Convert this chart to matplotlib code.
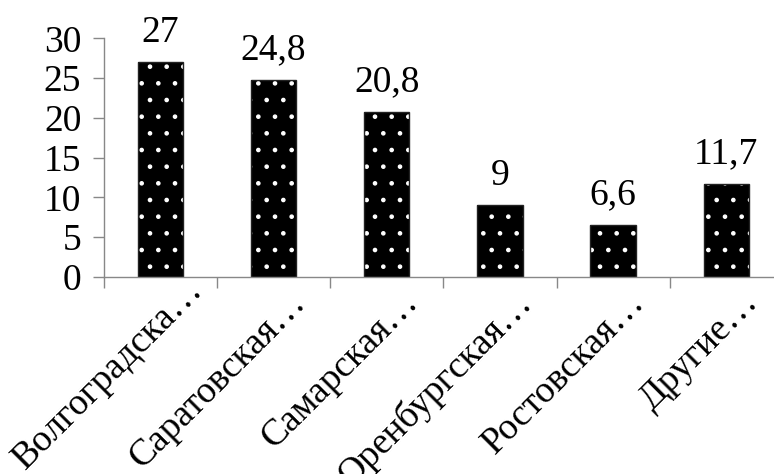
import matplotlib.pyplot as plt
import matplotlib.transforms as mtransforms
import numpy as np

regions = ["Волгоградска…", "Саратовская…", "Самарская…",
           "Оренбургская…", "Ростовская…", "Другие…"]
shares = [27, 24.8, 20.8, 9, 6.6, 11.7]
share_labels = ["27", "24,8", "20,8", "9", "6,6", "11,7"]

plt.rcParams["font.family"] = ["Liberation Serif", "DejaVu Serif"]
plt.rcParams["hatch.linewidth"] = 0.9

FS = 27

fig = plt.figure(figsize=(7.74, 4.74), dpi=100)
ax = fig.add_axes([0.1338, 0.4156, 0.8778, 0.5035])

x = np.arange(len(regions))
# black fill with white dot hatch, then a thin dark outline on top
ax.bar(x, shares, width=0.4, color="black", edgecolor="white", hatch=".", linewidth=0)
ax.bar(x, shares, width=0.4, fill=False, edgecolor="#222222", linewidth=1)

for xi, v, s in zip(x, shares, share_labels):
    ax.annotate(s, (xi, v), xytext=(0, 9), textcoords="offset points",
                ha="center", va="bottom", fontsize=FS, annotation_clip=False)

ax.set_xlim(-0.5, len(regions) - 0.5)
ax.set_ylim(0, 30)
ax.set_yticks(range(0, 31, 5))
ax.tick_params(axis="y", labelsize=FS, length=8, color="#888888", width=1, pad=8)

ax.set_xticks(np.arange(-0.5, len(regions), 1))
ax.set_xticklabels([])
ax.tick_params(axis="x", length=8, color="#888888", width=1)

# rotated category names, end of baseline placed just right of the category centre;
# the first one is lifted so it stays inside the figure
label_shift = [(32, -10), (24, -19.5), (24, -19.5), (24, -19.5), (24, -19.5), (24, -19.5)]
for xi, name, (dx, dy) in zip(x, regions, label_shift):
    tr = ax.get_xaxis_transform() + mtransforms.ScaledTranslation(dx / 72, dy / 72, fig.dpi_scale_trans)
    ax.text(xi, 0, name, transform=tr, rotation=45, rotation_mode="anchor",
            ha="right", va="baseline", fontsize=FS)

for side in ["top", "right"]:
    ax.spines[side].set_visible(False)
for side in ["left", "bottom"]:
    ax.spines[side].set_color("#888888")
    ax.spines[side].set_linewidth(1)

fig.savefig("out.png", dpi=100)
